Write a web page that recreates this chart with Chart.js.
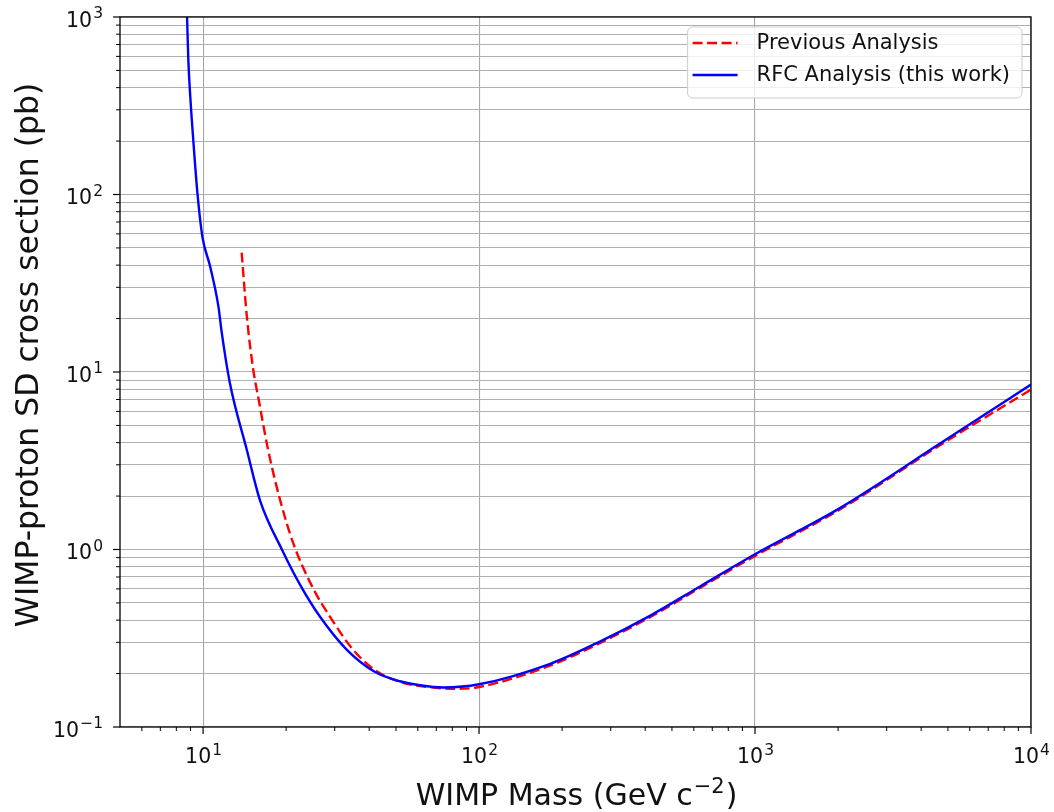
<!DOCTYPE html>
<html>
<head>
<meta charset="utf-8">
<script src="https://cdn.jsdelivr.net/npm/chart.js@4.4.1/dist/chart.umd.min.js"></script>
<style>
  html, body { margin: 0; padding: 0; background: #fff; }
  canvas { display: block; }
</style>
</head>
<body>
<canvas id="chart" width="1054" height="812"></canvas>
<script>
// Данные: масса WIMP (ГэВ) и сечение (pb)
const massPrev = [13.8, 14.4, 15.2, 15.9, 17.2, 19.0, 21.2, 25.1, 28.8, 35.0, 42.6, 52, 65, 83, 100, 181, 274, 416, 632, 1000, 2030, 4680, 10000]
const sigmaPrev = [47, 20.7, 10.3, 7.0, 3.65, 1.91, 1.09, 0.60, 0.419, 0.272, 0.206, 0.179, 0.168, 0.164, 0.168, 0.222, 0.297, 0.415, 0.608, 0.92, 1.68, 3.87, 7.96]

const massRFC = [8.75, 8.84, 9.0, 9.21, 9.55, 9.95, 10.6, 11.36, 11.69, 12.5, 14.4, 16.1, 19.3, 22.5, 26.5, 33.2, 42, 51.7, 61.1, 74.3, 100, 181, 274, 416, 632, 1000, 2030, 4680, 10000]
const sigmaRFC = [1000, 579, 344, 205, 100, 57.4, 39.5, 23.5, 16.6, 8.7, 3.65, 1.88, 1.0, 0.63, 0.419, 0.272, 0.204, 0.181, 0.172, 0.167, 0.174, 0.227, 0.303, 0.423, 0.619, 0.94, 1.71, 3.95, 8.5]

// Деления осей
const xMajor = [10, 100, 1000, 10000]
const xLabels = ['10^1', '10^2', '10^3', '10^4']
const xMinor = [6, 7, 8, 9, 20, 30, 40, 50, 60, 70, 80, 90, 200, 300, 400, 500, 600, 700, 800, 900, 2000, 3000, 4000, 5000, 6000, 7000, 8000, 9000]
const yMajor = [0.1, 1, 10, 100, 1000]
const yLabels = ['10^\u22121', '10^0', '10^1', '10^2', '10^3']
const yMinor = [0.2, 0.3, 0.4, 0.5, 0.6, 0.7, 0.8, 0.9, 2, 3, 4, 5, 6, 7, 8, 9, 20, 30, 40, 50, 60, 70, 80, 90, 200, 300, 400, 500, 600, 700, 800, 900]

// Подписи осей
const xTitle = ['WIMP Mass (GeV c', '\u22122', ')']
const yTitle = 'WIMP-proton SD cross section (pb)'

const FONT = '"DejaVu Sans", sans-serif'
Chart.defaults.font.family = FONT
Chart.defaults.color = '#111'

const pts = (xs, ys) => xs.map((x, i) => ({x, y: ys[i]}))

// Рамка, засечки, подписи и легенда в стиле matplotlib
const decor = {
    id: 'decor',
    afterDraw(chart) {
        const {ctx, chartArea: a} = chart
        const sx = chart.scales.x, sy = chart.scales.y
        ctx.save()
        ctx.strokeStyle = '#000'

        const mark = (scale, v, len, w) => {
            const p = scale.getPixelForValue(v)
            ctx.lineWidth = w
            ctx.beginPath()
            if (scale.isHorizontal()) {
                ctx.moveTo(p, a.bottom); ctx.lineTo(p, a.bottom + len)
            } else {
                ctx.moveTo(a.left, p); ctx.lineTo(a.left - len, p)
            }
            ctx.stroke()
        }
        xMinor.forEach(v => mark(sx, v, 4, 1))
        xMajor.forEach(v => mark(sx, v, 7, 1.2))
        yMinor.forEach(v => mark(sy, v, 4, 1))
        yMajor.forEach(v => mark(sy, v, 7, 1.2))

        ctx.lineWidth = 1.3
        ctx.strokeRect(a.left, a.top, a.right - a.left, a.bottom - a.top)

        // Подпись вида 10^n
        ctx.fillStyle = '#111'
        ctx.textBaseline = 'alphabetic'
        ctx.textAlign = 'left'
        const power = (label, x, base, horiz) => {
            const [b, e] = label.split('^')
            ctx.font = '20.5px ' + FONT
            const wb = ctx.measureText(b).width
            ctx.font = '15.5px ' + FONT
            const we = ctx.measureText(e).width
            const x0 = horiz ? x - (wb + we) / 2 : x - wb - we
            ctx.font = '20.5px ' + FONT
            ctx.fillText(b, x0, base)
            ctx.font = '15.5px ' + FONT
            ctx.fillText(e, x0 + wb + 1, base - 8.5)
        }
        xMajor.forEach((v, i) => power(xLabels[i], sx.getPixelForValue(v), a.bottom + 36, true))
        yMajor.forEach((v, i) => power(yLabels[i], a.left - 18, sy.getPixelForValue(v) + 9.5, false))

        // Подпись оси X с показателем степени
        const big = '30px ' + FONT, small = '21px ' + FONT
        ctx.font = big
        const w0 = ctx.measureText(xTitle[0]).width, w2 = ctx.measureText(xTitle[2]).width
        ctx.font = small
        const w1 = ctx.measureText(xTitle[1]).width
        let tx = (a.left + a.right) / 2 - (w0 + w1 + w2) / 2
        const tb = a.bottom + 78
        ctx.font = big; ctx.fillText(xTitle[0], tx, tb); tx += w0
        ctx.font = small; ctx.fillText(xTitle[1], tx + 1, tb - 12); tx += w1 + 2
        ctx.font = big; ctx.fillText(xTitle[2], tx, tb)

        // Подпись оси Y
        ctx.save()
        ctx.translate(30, (a.top + a.bottom) / 2 - 17)
        ctx.rotate(-Math.PI / 2)
        ctx.font = '31.5px ' + FONT
        ctx.textAlign = 'center'
        ctx.textBaseline = 'middle'
        ctx.fillText(yTitle, 0, 0)
        ctx.restore()

        // Легенда
        const sets = chart.data.datasets
        ctx.font = '21px ' + FONT
        const tw = Math.max(...sets.map(d => ctx.measureText(d.label).width))
        const w = 69 + tw + 12, h = 71
        const bx = a.right - 9 - w, by = a.top + 10
        ctx.beginPath()
        ctx.roundRect(bx, by, w, h, 5)
        ctx.fillStyle = 'rgba(255,255,255,0.8)'
        ctx.fill()
        ctx.strokeStyle = '#cccccc'
        ctx.lineWidth = 1
        ctx.stroke()
        sets.forEach((d, i) => {
            const cy = by + 16 + i * 32
            ctx.strokeStyle = d.borderColor
            ctx.lineWidth = d.borderWidth
            ctx.setLineDash(d.borderDash || [])
            ctx.beginPath()
            ctx.moveTo(bx + 5, cy); ctx.lineTo(bx + 50, cy)
            ctx.stroke()
            ctx.setLineDash([])
            ctx.fillStyle = '#111'
            ctx.textAlign = 'left'
            ctx.textBaseline = 'middle'
            ctx.fillText(d.label, bx + 69, cy + 1)
        })
        ctx.restore()
    }
}

new Chart(document.getElementById('chart'), {
    type: 'scatter',
    data: {
        datasets: [{
            label: 'Previous Analysis',
            data: pts(massPrev, sigmaPrev),
            borderColor: '#ff0000',
            borderWidth: 2.4,
            borderDash: [10, 4.5],
            order: 1
        }, {
            label: 'RFC Analysis (this work)',
            data: pts(massRFC, sigmaRFC),
            borderColor: '#0000ff',
            borderWidth: 2.4,
            order: 0
        }]
    },
    options: {
        responsive: false,
        animation: false,
        layout: { padding: { top: 17, right: 23, left: 0, bottom: 0 } },
        elements: {
            point: { radius: 0, hoverRadius: 0 },
            line: { cubicInterpolationMode: 'monotone', fill: false }
        },
        datasets: { scatter: { showLine: true } },
        plugins: { legend: { display: false }, tooltip: { enabled: false } },
        scales: {
            x: {
                type: 'logarithmic',
                min: 5, max: 10000,
                afterBuildTicks: s => { s.ticks = xMajor.concat(xMinor).map(v => ({value: v})) },
                afterFit: s => { s.height = 85 },
                ticks: { display: false },
                border: { display: false },
                grid: {
                    drawTicks: false,
                    lineWidth: 1.1,
                    color: c => c.tick && xMajor.includes(c.tick.value) ? '#a8a8a8' : 'rgba(0,0,0,0)'
                }
            },
            y: {
                type: 'logarithmic',
                min: 0.1, max: 1000,
                afterBuildTicks: s => { s.ticks = yMajor.concat(yMinor).map(v => ({value: v})) },
                afterFit: s => { s.width = 120 },
                ticks: { display: false },
                border: { display: false },
                grid: { drawTicks: false, lineWidth: 1.1, color: '#b0b0b0' }
            }
        }
    },
    plugins: [decor]
})
</script>
</body>
</html>
